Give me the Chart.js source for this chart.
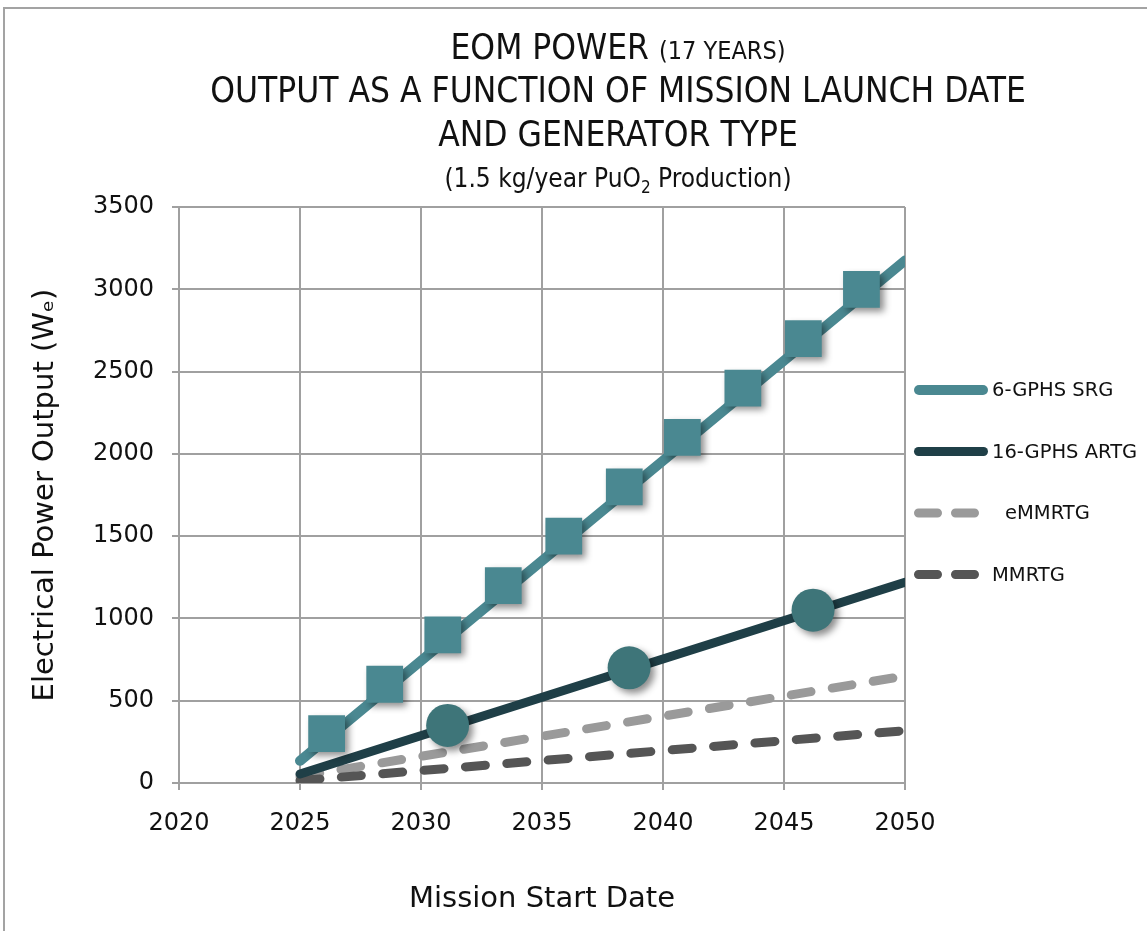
<!DOCTYPE html>
<html>
<head>
<meta charset="utf-8">
<script src="https://cdn.jsdelivr.net/npm/chart.js@4.4.1/dist/chart.umd.min.js"></script>
<style>
  body { margin: 0; background: #fff; }
  #wrap { position: relative; width: 1147px; height: 931px; overflow: hidden; }
  #frame { position: absolute; left: 3px; top: 7px; width: 1200px; height: 1000px; border-left: 2px solid #a3a3a3; border-top: 2px solid #a3a3a3; }
  .ttl { position: absolute; left: 618px; transform: translateX(-50%); white-space: nowrap; font-family: "Liberation Sans Narrow", "DejaVu Sans Condensed", sans-serif; color: #111; }
  .big { font-size: 35px; }
  .small { font-size: 25px; }
  canvas { position: absolute; left: 0; top: 0; }
</style>
</head>
<body>
<div id="wrap">
  <div id="frame"></div>
  <canvas id="myChart01" width="1147" height="931"></canvas>
  <div class="ttl big" style="top: 27px;">EOM POWER <span class="small">(17 YEARS)</span></div>
  <div class="ttl big" style="top: 70px;">OUTPUT AS A FUNCTION OF MISSION LAUNCH DATE</div>
  <div class="ttl big" style="top: 114px;">AND GENERATOR TYPE</div>
  <div class="ttl small" style="top: 163px; font-size: 26px;">(1.5 kg/year PuO<sub style="font-size: 17px;">2</sub> Production)</div>
</div>
<script>
// x axis ticks and y axis ticks
const anos = [2020, 2025, 2030, 2035, 2040, 2045, 2050];
const potencias = [0, 500, 1000, 1500, 2000, 2500, 3000, 3500];

// trend lines (start / end of period)
const linhaAnos = [2025, 2050];
const srgLinha = [135, 3175];
const artgLinha = [55, 1220];
const emmrtgLinha = [40, 650];
const mmrtgLinha = [15, 318];

// marker points
const srgAnos = [2026.1, 2028.5, 2030.9, 2033.4, 2035.9, 2038.4, 2040.8, 2043.3, 2045.8, 2048.2];
const srgValores = [300, 600, 900, 1200, 1500, 1800, 2100, 2400, 2700, 3000];
const artgAnos = [2031.1, 2038.6, 2046.2];
const artgValores = [350, 700, 1050];

function pontos(xs, ys) {
    return xs.map((x, i) => ({ x: x, y: ys[i] }));
}

const sombra = {
    id: 'sombra',
    beforeDatasetDraw(chart, args) {
        const ds = chart.data.datasets[args.index];
        if (!ds.sombra) return;
        const ctx = chart.ctx;
        ctx.save();
        ctx.shadowColor = 'rgba(0,0,0,0.45)';
        ctx.shadowBlur = 7;
        ctx.shadowOffsetX = 4;
        ctx.shadowOffsetY = 4;
    },
    afterDatasetDraw(chart, args) {
        const ds = chart.data.datasets[args.index];
        if (ds.sombra) chart.ctx.restore();
    }
};

// legend drawn by hand so the dashed entries look like the lines
const legenda = {
    id: 'legenda',
    afterDraw(chart, args, opts) {
        const ctx = chart.ctx;
        let y = opts.top;
        chart.data.datasets.forEach(ds => {
            if (ds.sombra) return;
            ctx.save();
            ctx.strokeStyle = ds.borderColor;
            ctx.lineWidth = ds.borderWidth;
            ctx.lineCap = 'round';
            const m = ds.borderWidth / 2;
            ctx.setLineDash(ds.borderDash ? [19, 18] : []);
            ctx.beginPath();
            ctx.moveTo(opts.left + m, y);
            ctx.lineTo(opts.left + (ds.borderDash ? 65 : 74) - m, y);
            ctx.stroke();
            ctx.setLineDash([]);
            ctx.fillStyle = '#111';
            ctx.font = '19.5px "DejaVu Sans"';
            ctx.textBaseline = 'middle';
            ctx.fillText(ds.label, opts.left + 78 + (ds.recuo || 0), y + 1);
            ctx.restore();
            y += opts.step;
        });
    }
};

const grafico1 = document.getElementById('myChart01');

new Chart(grafico1, {
    type: 'scatter',
    data: {
        datasets: [{
            label: '6-GPHS SRG',
            data: pontos(linhaAnos, srgLinha),
            showLine: true,
            borderColor: '#4a8891',
            borderWidth: 10,
            borderCapStyle: 'round',
            pointRadius: 0,
            order: 2
        },
        {
            label: '16-GPHS ARTG',
            data: pontos(linhaAnos, artgLinha),
            showLine: true,
            borderColor: '#1f3f47',
            borderWidth: 9,
            borderCapStyle: 'round',
            pointRadius: 0,
            order: 3
        },
        {
            label: 'eMMRTG',
            recuo: 13,
            data: pontos(linhaAnos, emmrtgLinha),
            showLine: true,
            borderColor: '#9a9a9a',
            borderWidth: 9,
            borderDash: [20, 21.5],
            borderCapStyle: 'round',
            pointRadius: 0,
            order: 5
        },
        {
            label: 'MMRTG',
            data: pontos(linhaAnos, mmrtgLinha),
            showLine: true,
            borderColor: '#555555',
            borderWidth: 9,
            borderDash: [20, 21.5],
            borderCapStyle: 'round',
            pointRadius: 0,
            order: 4
        },
        {
            label: '6-GPHS SRG pontos',
            sombra: true,
            data: pontos(srgAnos, srgValores),
            pointStyle: 'rect',
            pointRadius: 26,
            backgroundColor: '#4a8891',
            borderWidth: 0,
            order: 0
        },
        {
            label: '16-GPHS ARTG pontos',
            sombra: true,
            data: pontos(artgAnos, artgValores),
            pointStyle: 'circle',
            pointRadius: 21.5,
            backgroundColor: '#3e7579',
            borderWidth: 0,
            order: 1
        }]
    },
    options: {
        responsive: false,
        animation: false,
        layout: {
            padding: { top: 207, right: 242, left: 0, bottom: 0 }
        },
        plugins: {
            legend: { display: false },
            tooltip: { enabled: false },
            legenda: { left: 914, top: 390, step: 61.5 }
        },
        scales: {
            x: {
                type: 'linear',
                min: anos[0],
                max: anos[anos.length - 1],
                afterBuildTicks: s => { s.ticks = anos.map(v => ({ value: v })); },
                afterFit: s => { s.height = 148; },
                ticks: {
                    color: '#111',
                    font: { family: 'DejaVu Sans', size: 24 },
                    padding: 19,
                    callback: v => String(v)
                },
                grid: { color: '#a0a0a0', lineWidth: 2, tickLength: 7 },
                border: { color: '#a0a0a0', width: 2 },
                title: {
                    display: true,
                    text: 'Mission Start Date',
                    color: '#111',
                    font: { family: 'DejaVu Sans', size: 29 },
                    padding: { top: 0, bottom: 14 }
                }
            },
            y: {
                min: potencias[0],
                max: potencias[potencias.length - 1],
                afterBuildTicks: s => { s.ticks = potencias.map(v => ({ value: v })); },
                afterFit: s => { s.width = 179; },
                ticks: {
                    color: '#111',
                    font: { family: 'DejaVu Sans', size: 24 },
                    padding: 18,
                    callback: v => String(v)
                },
                grid: { color: '#a0a0a0', lineWidth: 2, tickLength: 7 },
                border: { color: '#a0a0a0', width: 2 },
                title: {
                    display: true,
                    text: 'Electrical Power Output (Wₑ)',
                    color: '#111',
                    font: { family: 'DejaVu Sans', size: 29 },
                    padding: { top: 28, bottom: 0 }
                }
            }
        }
    },
    plugins: [sombra, legenda]
});
</script>
</body>
</html>
